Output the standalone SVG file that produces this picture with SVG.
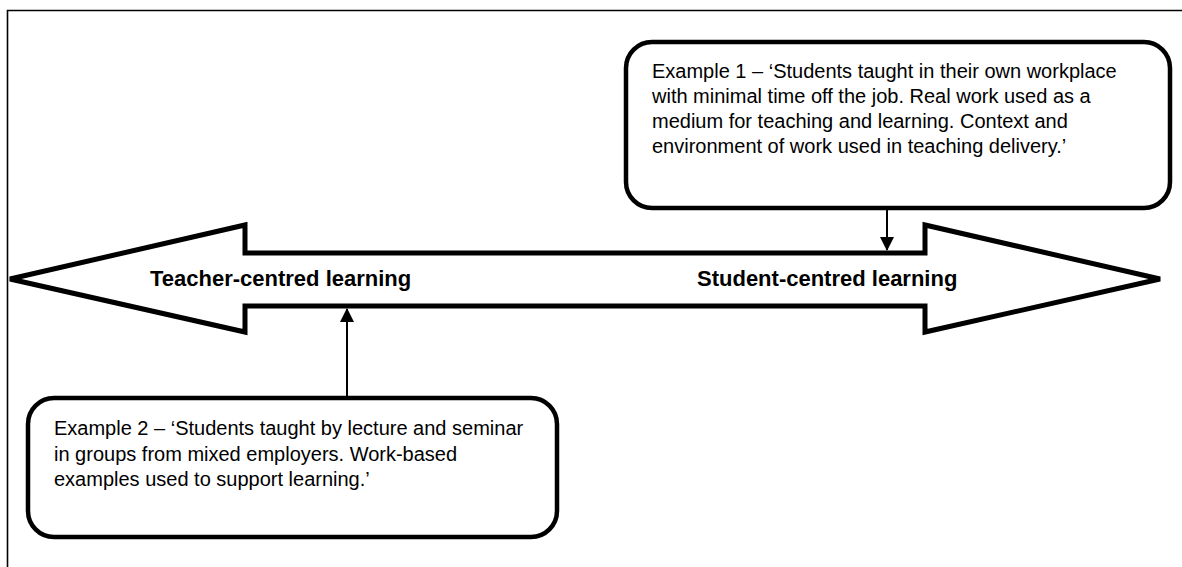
<svg xmlns="http://www.w3.org/2000/svg" width="1182" height="567" viewBox="0 0 1182 567">
<style>
.box{fill:#fff;stroke:#000;stroke-width:4.5}
.t{font-family:"Liberation Sans",Arial,sans-serif;font-size:20px;fill:#000}
.b{font-family:"Liberation Sans",Arial,sans-serif;font-size:22px;font-weight:bold;fill:#000}
.c{stroke:#000;stroke-width:2;fill:none}
</style>
<defs>
<marker id="ah2" viewBox="0 0 14 14" markerWidth="14" markerHeight="14" refX="13" refY="7" orient="auto" markerUnits="userSpaceOnUse">
<path d="M0,0 L14,7 L0,14 Z" fill="#000"/>
</marker>
</defs>
<rect width="1182" height="567" fill="#fff"/>
<path d="M7.5,567 V10.5 H1182" fill="none" stroke="#000" stroke-width="1.6"/>
<g id="bigarrow">
<polygon points="10,279 245,225 245,253 925,253 925,225 1160,279 925,332 925,306 245,306 245,332" fill="#fff" stroke="#000" stroke-width="5" stroke-linejoin="miter"/>
<text class="b" x="150" y="286">Teacher-centred learning</text>
<text class="b" x="697" y="286">Student-centred learning</text>
</g>
<g id="example1">
<rect class="box" x="626" y="42" width="544" height="166" rx="26"/>
<text class="t" x="652" y="78">Example 1 – ‘Students taught in their own workplace</text>
<text class="t" x="652" y="103">with minimal time off the job. Real work used as a</text>
<text class="t" x="652" y="128">medium for teaching and learning. Context and</text>
<text class="t" x="652" y="153">environment of work used in teaching delivery.’</text>
</g>
<g id="example2">
<rect class="box" x="28" y="398" width="529" height="139" rx="26"/>
<text class="t" x="54" y="435">Example 2 – ‘Students taught by lecture and seminar</text>
<text class="t" x="54" y="461">in groups from mixed employers. Work-based</text>
<text class="t" x="54" y="486">examples used to support learning.’</text>
</g>
<g id="connectors">
<line class="c" x1="887" y1="210" x2="887" y2="250" marker-end="url(#ah2)"/>
<line class="c" x1="347" y1="396" x2="347" y2="309" marker-end="url(#ah2)"/>
</g>
</svg>
